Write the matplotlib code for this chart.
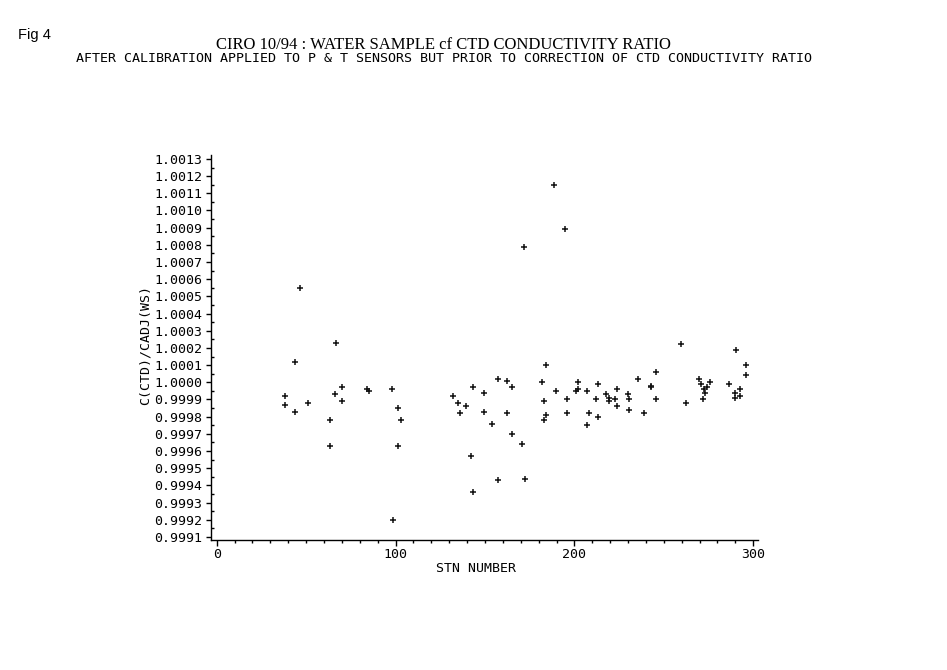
import matplotlib.pyplot as plt
from matplotlib.ticker import MultipleLocator, FormatStrFormatter

# station number and conductivity ratio C(CTD)/CADJ(WS)
stn = [38.0, 38.0, 43.9, 43.9, 46.7, 51.0, 63.2, 63.2, 66.0, 66.9,
       70.0, 70.0, 83.8, 85.0, 98.2, 98.4, 101.3, 101.3, 103.2,
       132.3, 135.0, 136.2, 139.2, 142.1, 143.1, 143.4, 149.2, 149.2, 154.1,
       157.1, 157.2, 162.1, 162.1, 165.1, 165.1, 170.8, 171.6, 172.2,
       182.0, 183.0, 183.0, 183.9, 184.1, 188.4, 189.8, 194.5, 196.0, 196.0,
       201.0, 202.0, 202.0, 207.0, 207.9, 207.0, 212.0, 213.0, 213.0,
       217.8, 219.1, 219.1, 222.8, 223.9, 223.9, 229.7, 230.6, 230.6,
       235.5, 238.8, 242.6, 242.6, 245.6, 245.6, 259.5, 262.5,
       269.6, 270.7, 271.8, 272.4, 273.3, 274.2, 275.7, 286.5,
       289.6, 289.6, 290.1, 292.5, 292.5, 295.7, 295.7]
ratio = [0.99992, 0.99987, 1.00012, 0.99983, 1.00055, 0.99988, 0.99978, 0.99963, 0.99993, 1.00023,
         0.99997, 0.99989, 0.99996, 0.99995, 0.99996, 0.99920, 0.99985, 0.99963, 0.99978,
         0.99992, 0.99988, 0.99982, 0.99986, 0.99957, 0.99997, 0.99936, 0.99994, 0.99983, 0.99976,
         1.00002, 0.99943, 1.00001, 0.99982, 0.99997, 0.99970, 0.99964, 1.00079, 0.99944,
         1.00000, 0.99989, 0.99978, 1.00010, 0.99981, 1.00115, 0.99995, 1.00089, 0.99990, 0.99982,
         0.99995, 0.99996, 1.00000, 0.99995, 0.99982, 0.99975, 0.99990, 0.99999, 0.99980,
         0.99993, 0.99991, 0.99989, 0.99990, 0.99996, 0.99986, 0.99993, 0.99990, 0.99984,
         1.00002, 0.99982, 0.99998, 0.99997, 1.00006, 0.99990, 1.00022, 0.99988,
         1.00002, 0.99999, 0.99990, 0.99996, 0.99994, 0.99997, 1.00000, 0.99999,
         0.99994, 0.99991, 1.00019, 0.99996, 0.99992, 1.00010, 1.00004]

mono = 'DejaVu Sans Mono'

fig = plt.figure(figsize=(9.47, 6.7), dpi=100)
ax = fig.add_axes([0.2228, 0.1945, 0.5773, 0.5742])

ax.plot(stn, ratio, linestyle='none', marker='+', color='#111111',
        markersize=5, markeredgewidth=1.1)

ax.set_xlim(-3.2, 302.5)
ax.set_ylim(0.999084, 1.001323)

ax.spines['top'].set_visible(False)
ax.spines['right'].set_visible(False)
ax.spines['left'].set_linewidth(1.0)
ax.spines['bottom'].set_linewidth(1.0)

ax.xaxis.set_major_locator(MultipleLocator(100))
ax.xaxis.set_minor_locator(MultipleLocator(10))
ax.yaxis.set_major_locator(MultipleLocator(0.0001))
ax.yaxis.set_minor_locator(MultipleLocator(0.00005))
ax.yaxis.set_major_formatter(FormatStrFormatter('%.4f'))

ax.tick_params(axis='x', which='major', direction='out', length=4, width=1, pad=2)
ax.tick_params(axis='x', which='minor', direction='out', length=2.5, width=1)
ax.tick_params(axis='y', which='major', direction='out', length=3.5, width=1, pad=3)
ax.tick_params(axis='y', which='minor', direction='in', length=2, width=1)

for lab in ax.get_xticklabels() + ax.get_yticklabels():
    lab.set_fontfamily(mono)
    lab.set_fontsize(9.5)

ax.set_xlabel('STN NUMBER', fontfamily=mono, fontsize=9.5)
ax.xaxis.set_label_coords(0.485, -0.058)
ax.set_ylabel('C(CTD)/CADJ(WS)', fontfamily=mono, fontsize=9.5)
ax.yaxis.set_label_coords(-0.108, 0.506)

# titles
fig.text(0.019, 0.948, 'Fig 4', fontfamily='Liberation Sans', fontsize=10.5, va='center')
fig.text(0.4685, 0.933, 'CIRO 10/94 : WATER SAMPLE cf CTD CONDUCTIVITY RATIO',
         fontfamily='Liberation Serif', fontsize=12, ha='center', va='center')
fig.text(0.469, 0.913,
         'AFTER CALIBRATION APPLIED TO P & T SENSORS BUT PRIOR TO CORRECTION OF CTD CONDUCTIVITY RATIO',
         fontfamily=mono, fontsize=9.6, ha='center', va='center')

fig.savefig('out.png', dpi=100)
